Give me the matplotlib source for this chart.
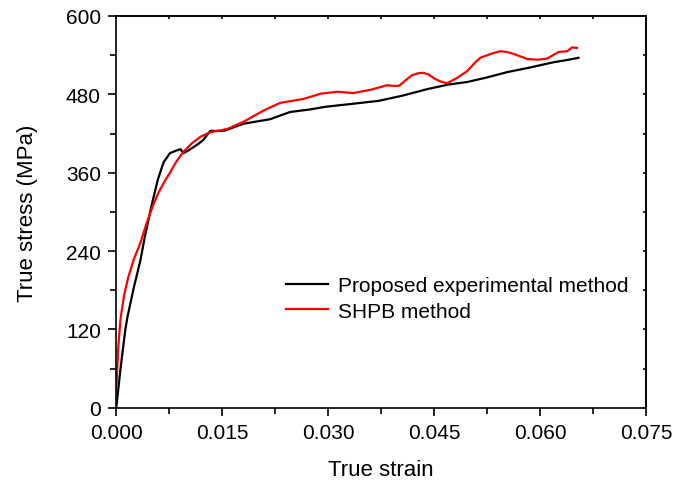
import matplotlib.pyplot as plt

plt.rcParams['font.family'] = ['Liberation Sans', 'DejaVu Sans']

# Proposed experimental method (black)
exp_strain = [0.0, 0.0006, 0.0013, 0.0016, 0.0025, 0.0034, 0.0041, 0.0050, 0.0059,
              0.0067, 0.0076, 0.0085, 0.0091, 0.0095, 0.0102, 0.0109, 0.0116, 0.0123,
              0.0133, 0.0152, 0.0180, 0.0218, 0.0246, 0.0275, 0.0296, 0.0330, 0.0371,
              0.0405, 0.0440, 0.0470, 0.0497, 0.0525, 0.0553, 0.0585, 0.0618, 0.0640, 0.0654]
exp_stress = [0, 60, 121, 140, 185, 225, 265, 310, 350,
              376, 390, 394, 396, 390, 394, 399, 404, 410,
              424, 424, 435, 442, 453, 457, 461, 465, 470,
              478, 488, 495, 499, 506, 514, 521, 529, 533, 536]

# SHPB method (red)
shpb_strain = [0.0, 0.0003, 0.0006, 0.0011, 0.0017, 0.0025, 0.0034, 0.0043, 0.0052,
               0.0060, 0.0068, 0.0076, 0.0085, 0.0095, 0.0107, 0.0119, 0.0133, 0.0157,
               0.0180, 0.0208, 0.0232, 0.0265, 0.0289, 0.0313, 0.0335, 0.0360, 0.0383,
               0.0392, 0.0400, 0.0410, 0.0418, 0.0426, 0.0434, 0.0441, 0.0449, 0.0458,
               0.0468, 0.0482, 0.0497, 0.0507, 0.0515, 0.0530, 0.0543, 0.0552, 0.0562,
               0.0572, 0.0582, 0.0597, 0.0610, 0.0618, 0.0626, 0.0638, 0.0645, 0.0652]
shpb_stress = [29, 95, 136, 172, 200, 228, 252, 283, 310,
               330, 346, 360, 377, 392, 405, 415, 422, 427,
               438, 455, 467, 473, 481, 484, 482, 487, 494,
               493, 493, 502, 509, 512, 513, 511, 505, 500,
               497, 505, 516, 528, 536, 542, 546, 545, 542,
               538, 534, 533, 535, 540, 545, 546, 552, 551]

fig, ax = plt.subplots(figsize=(6.92, 4.85), dpi=100)
fig.subplots_adjust(left=0.168, right=0.934, top=0.965, bottom=0.157)

ax.plot(exp_strain, exp_stress, color='black', lw=1.6, label='Proposed experimental method')
ax.plot(shpb_strain, shpb_stress, color='red', lw=1.6, label='SHPB method')

ax.set_xlim(0, 0.075)
ax.set_ylim(0, 600)
ax.set_xticks([0, 0.015, 0.030, 0.045, 0.060, 0.075])
ax.set_xticklabels(['0.000', '0.015', '0.030', '0.045', '0.060', '0.075'])
ax.set_xticks([0.0075, 0.0225, 0.0375, 0.0525, 0.0675], minor=True)
ax.set_yticks([0, 120, 240, 360, 480, 600])
ax.set_yticks([60, 180, 300, 420, 540], minor=True)

ax.tick_params(which='both', direction='out', labelsize=15, width=1.2, pad=5)
ax.tick_params(which='major', length=6)
ax.tick_params(which='minor', length=4)

# small inward ticks on the top and right spines
sx = ax.secondary_xaxis('top')
sx.set_xticks([0, 0.015, 0.030, 0.045, 0.060, 0.075, 0.0075, 0.0225, 0.0375, 0.0525, 0.0675])
sx.tick_params(direction='in', length=2, width=1.2, labeltop=False)
sx.spines['top'].set_linewidth(1.2)
sy = ax.secondary_yaxis('right')
sy.set_yticks([0, 60, 120, 180, 240, 300, 360, 420, 480, 540, 600])
sy.tick_params(direction='in', length=2, width=1.2, labelright=False)
sy.spines['right'].set_linewidth(1.2)
for s in ax.spines.values():
    s.set_linewidth(1.2)

ax.set_xlabel('True strain', fontsize=16, labelpad=12)
ax.set_ylabel('True stress (MPa)', fontsize=16, labelpad=20)

ax.legend(loc='center left', bbox_to_anchor=(0.285, 0.279), frameon=False, fontsize=15,
          handlelength=2.0, handletextpad=0.5, labelspacing=0.3)

fig.savefig('out.png', dpi=100)
